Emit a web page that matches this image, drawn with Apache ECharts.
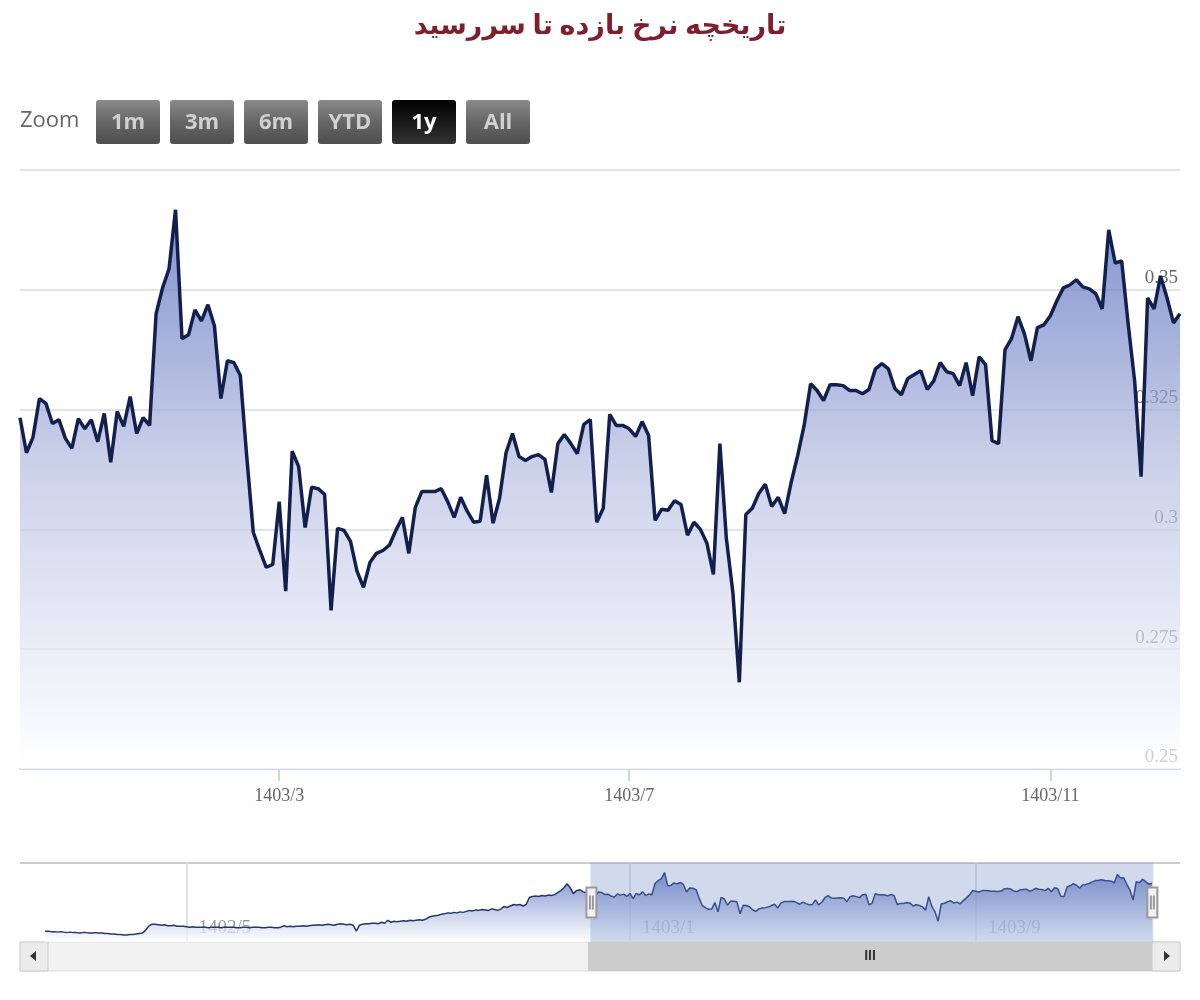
<!DOCTYPE html>
<html><head><meta charset="utf-8">
<script src="https://cdn.jsdelivr.net/npm/echarts@6/dist/echarts.min.js"></script>
<style>html,body{margin:0;padding:0;background:#fff}#c{width:1200px;height:1000px}</style>
</head><body><div id="c"></div>
<script>
const titleText = 'تاریخچه نرخ بازده تا سررسید';
const zoomButtons = ['1m','3m','6m','YTD','1y','All'];
const activeButton = '1y';
// earlier history (shown only in navigator)
const historyValues = [
0.248,0.248,0.247,0.247,0.246,0.247,0.246,0.245,0.246,0.245,
0.245,0.244,0.245,0.245,0.244,0.244,0.245,0.244,0.244,0.243,
0.243,0.242,0.242,0.241,0.241,0.240,0.240,0.241,0.241,0.242,
0.243,0.244,0.250,0.258,0.262,0.262,0.261,0.260,0.261,0.259,
0.259,0.260,0.258,0.258,0.258,0.257,0.256,0.257,0.256,0.256,
0.256,0.256,0.255,0.256,0.256,0.256,0.255,0.256,0.256,0.256,
0.256,0.255,0.255,0.256,0.256,0.255,0.256,0.256,0.256,0.255,
0.255,0.256,0.256,0.255,0.255,0.256,0.259,0.257,0.258,0.257,
0.258,0.258,0.259,0.258,0.259,0.260,0.260,0.261,0.260,0.261,
0.262,0.261,0.260,0.262,0.263,0.262,0.261,0.262,0.260,0.248,
0.260,0.262,0.263,0.263,0.264,0.264,0.263,0.266,0.264,0.270,
0.266,0.268,0.267,0.268,0.269,0.268,0.270,0.269,0.270,0.271,
0.270,0.272,0.276,0.278,0.279,0.280,0.282,0.283,0.285,0.284,
0.286,0.285,0.287,0.286,0.288,0.290,0.289,0.291,0.290,0.292,
0.291,0.290,0.293,0.292,0.290,0.293,0.298,0.296,0.299,0.302,
0.301,0.302,0.299,0.302,0.316,0.318,0.319,0.318,0.320,0.319,
0.321,0.320,0.322,0.326,0.330,0.336,0.344,0.336,0.324,0.330,
0.332,0.328,0.326];
// last year (shown in main chart)
const recentValues = [
0.3233,0.3160,0.3192,0.3273,0.3263,0.3221,0.3229,0.3190,0.3169,0.3231,
0.3210,0.3229,0.3183,0.3242,0.3140,0.3246,0.3215,0.3277,0.3200,0.3233,
0.3217,0.3450,0.3504,0.3544,0.3667,0.3398,0.3406,0.3458,0.3435,0.3469,
0.3425,0.3273,0.3352,0.3348,0.3321,0.3150,0.2994,0.2956,0.2921,0.2927,
0.3058,0.2871,0.3163,0.3131,0.3004,0.3088,0.3085,0.3073,0.2831,0.3002,
0.2998,0.2975,0.2913,0.2879,0.2931,0.2950,0.2956,0.2967,0.2998,0.3025,
0.2950,0.3046,0.3079,0.3079,0.3079,0.3085,0.3058,0.3025,0.3067,0.3038,
0.3015,0.3017,0.3113,0.3013,0.3065,0.3160,0.3200,0.3152,0.3144,0.3152,
0.3156,0.3146,0.3077,0.3179,0.3198,0.3179,0.3158,0.3219,0.3229,0.3015,
0.3044,0.3240,0.3217,0.3217,0.3210,0.3194,0.3225,0.3196,0.3019,0.3042,
0.3040,0.3060,0.3052,0.2988,0.3015,0.3000,0.2971,0.2906,0.3179,0.2981,
0.2869,0.2681,0.3031,0.3044,0.3075,0.3094,0.3048,0.3067,0.3033,0.3098,
0.3154,0.3217,0.3304,0.3290,0.3269,0.3302,0.3302,0.3300,0.3290,0.3290,
0.3283,0.3292,0.3335,0.3346,0.3335,0.3294,0.3281,0.3315,0.3323,0.3331,
0.3292,0.3310,0.3348,0.3329,0.3325,0.3300,0.3348,0.3279,0.3360,0.3344,
0.3185,0.3179,0.3375,0.3398,0.3444,0.3408,0.3352,0.3421,0.3427,0.3446,
0.3477,0.3504,0.3510,0.3521,0.3506,0.3502,0.3492,0.3460,0.3625,0.3556,
0.3560,0.3429,0.3310,0.3110,0.3483,0.3460,0.3529,0.3483,0.3431,0.3450];
const mainTickLabels = {213:'1403/3', 267:'1403/7', 332:'1403/11'};
const navTickLabels = {45:'1402/5', 186:'1403/1', 296:'1403/9'};
const yTicks = [0.25,0.275,0.3,0.325,0.35];

const allValues = historyValues.concat(recentValues);
const categories = allValues.map((v,i)=>String(i));
const startIdx = historyValues.length, endIdx = allValues.length-1;

const chart = echarts.init(document.getElementById('c'));
const serif = "'Liberation Serif','DejaVu Serif',serif";
const graphics = [
  {type:'text', left:'center', top:14, style:{text:titleText, fill:'#7d1f2c', font:"bold 27px 'Liberation Serif','DejaVu Sans',serif"}},
  {type:'text', left:20, top:110, style:{text:'Zoom', fill:'#666', font:"22px 'Open Sans','DejaVu Sans',sans-serif"}},
  {type:'line', shape:{x1:20,y1:863,x2:1180,y2:863}, style:{stroke:'#ccc', lineWidth:2}},
  {type:'rect', shape:{x:20,y:942,width:1160,height:29}, style:{fill:'#f2f2f2', stroke:'#ddd'}},
  {type:'rect', shape:{x:588,y:942,width:564,height:29}, style:{fill:'#cccccc'}},
  {type:'text', x:870, y:956, style:{text:'III', fill:'#333', font:"bold 14px sans-serif", align:'center', verticalAlign:'middle'}},
  {type:'rect', shape:{x:20,y:942,width:28,height:29}, style:{fill:'#ebebeb', stroke:'#ccc'}},
  {type:'polygon', shape:{points:[[30,956],[36,951],[36,961]]}, style:{fill:'#333'}},
  {type:'rect', shape:{x:1152,y:942,width:28,height:29}, style:{fill:'#ebebeb', stroke:'#ccc'}},
  {type:'polygon', shape:{points:[[1170,956],[1164,951],[1164,961]]}, style:{fill:'#333'}}
];
zoomButtons.forEach((b,i)=>{
  const x = 96 + i*74, act = b===activeButton;
  graphics.push({type:'rect', shape:{x:x,y:100,width:64,height:44,r:3},
    style:{fill: act ? new echarts.graphic.LinearGradient(0,0,0,1,[{offset:0,color:'#000'},{offset:1,color:'#333'}])
                     : new echarts.graphic.LinearGradient(0,0,0,1,[{offset:0,color:'#8a8a8a'},{offset:0.5,color:'#666'},{offset:1,color:'#4e4e4e'}])}});
  graphics.push({type:'text', x:x+32, y:123, style:{text:b, fill: act?'#fff':'#d0d0d0', font:"bold 22px 'Open Sans','DejaVu Sans',sans-serif", align:'center', verticalAlign:'middle'}});
});

chart.setOption({
  animation:false,
  graphic: graphics,
  grid:[
    {left:20, right:20, top:170, height:599},
    {left:45, right:48, top:863, height:79}
  ],
  xAxis:[
    {type:'category', gridIndex:0, data:categories, boundaryGap:false,
     axisLine:{lineStyle:{color:'#ccd6eb', width:2}},
     axisTick:{interval:(i)=>mainTickLabels[i]!==undefined, length:12, lineStyle:{color:'#ccd6eb', width:2}},
     axisLabel:{interval:(i)=>mainTickLabels[i]!==undefined, formatter:(v)=>mainTickLabels[v]||'', color:'#666', fontFamily:serif, fontSize:18, margin:18},
     splitLine:{show:false}},
    {type:'category', gridIndex:1, data:categories, boundaryGap:false,
     axisLine:{show:false}, axisTick:{show:false},
     axisLabel:{inside:true, interval:(i)=>navTickLabels[i]!==undefined, formatter:(v)=>navTickLabels[v]||'', color:'#999', fontFamily:serif, fontSize:19, align:'left', padding:[0,0,0,12], margin:4},
     splitLine:{show:true, interval:(i)=>navTickLabels[i]!==undefined, lineStyle:{color:'#e0e0e0', width:2}}}
  ],
  yAxis:[
    {type:'value', gridIndex:0, position:'right', min:0.25, max:0.375, interval:0.025,
     axisLine:{show:false}, axisTick:{show:false},
     axisLabel:{inside:true, verticalAlign:'bottom', color:'#666', fontFamily:serif, fontSize:19, margin:0, padding:[0,2,2,0],
       formatter:(v)=>{const t=yTicks.find(y=>Math.abs(y-v)<1e-9); return t===undefined?'':String(t);}},
     splitLine:{lineStyle:{color:'#e3e3e3', width:2}}},
    {type:'value', gridIndex:1, min:0.226, max:0.386, show:false, splitLine:{show:false}}
  ],
  dataZoom:[{
    type:'slider', xAxisIndex:0, startValue:startIdx, endValue:endIdx,
    left:45, right:48, top:863, height:79,
    showDataShadow:false, showDetail:false, brushSelect:false, moveHandleSize:0,
    backgroundColor:'rgba(0,0,0,0)', borderColor:'rgba(0,0,0,0)',
    fillerColor:'rgba(102,133,194,0.3)',
    handleIcon:'path://M0,0 L10,0 L10,30 L0,30 Z M3.5,8 L3.5,22 M6.5,8 L6.5,22',
    handleSize:30,
    handleStyle:{color:'#f2f2f2', borderColor:'#999', borderWidth:2}
  }],
  series:[
    {type:'line', xAxisIndex:0, yAxisIndex:0, data:allValues, symbol:'none',
     lineStyle:{color:'#13204d', width:3.5},
     areaStyle:{color:new echarts.graphic.LinearGradient(0,0,0,1,[{offset:0,color:'#4a63b8'},{offset:0.45,color:'#b4bce0'},{offset:1,color:'#ffffff'}])}},
    {type:'line', xAxisIndex:1, yAxisIndex:1, data:allValues, symbol:'none',
     lineStyle:{color:'#24386f', width:1.5},
     areaStyle:{color:new echarts.graphic.LinearGradient(0,0,0,1,[{offset:0,color:'#4a63b8'},{offset:1,color:'#ffffff'}])}}
  ]
});
</script></body></html>
